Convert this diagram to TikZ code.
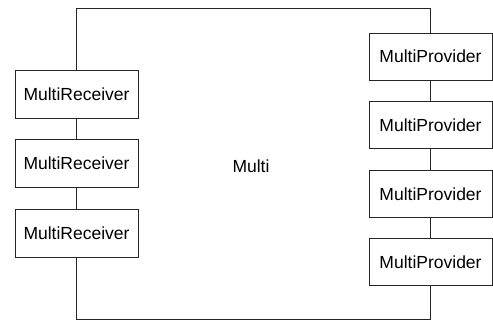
\documentclass[tikz,border=0pt]{standalone}
\usepackage{fontspec}
\setmainfont{Liberation Sans}
\begin{document}
\begin{tikzpicture}[x=1pt,y=-1pt,
  box/.style={draw=black!85,line width=0.9pt,fill=white,inner sep=0pt,font=\fontsize{17.5}{20}\selectfont},
  wire/.style={draw=black!85,line width=0.9pt}]
\useasboundingbox (0,0) rectangle (493,321);
% left receivers
\node[box,minimum width=123pt,minimum height=48pt] (r1) at (76.5,94) {MultiReceiver};
\node[box,minimum width=123pt,minimum height=48pt] (r2) at (76.5,163) {MultiReceiver};
\node[box,minimum width=123pt,minimum height=48pt] (r3) at (76.5,233) {MultiReceiver};
% right providers
\node[box,minimum width=123pt,minimum height=47pt] (p1) at (430.5,56.5) {MultiProvider};
\node[box,minimum width=123pt,minimum height=47pt] (p2) at (430.5,125) {MultiProvider};
\node[box,minimum width=123pt,minimum height=47pt] (p3) at (430.5,194) {MultiProvider};
\node[box,minimum width=123pt,minimum height=47pt] (p4) at (430.5,262) {MultiProvider};
% centre label
\node[font=\fontsize{17.5}{20}\selectfont] (m) at (251,166) {Multi};
% frame corners
\coordinate (tl) at (76.5,8);
\coordinate (tr) at (430.5,8);
\coordinate (bl) at (76.5,319);
\coordinate (br) at (430.5,319);
\draw[wire] (r1.north) -- (tl) -- (tr) -- (p1.north);
\draw[wire] (r1.south) -- (r2.north);
\draw[wire] (r2.south) -- (r3.north);
\draw[wire] (r3.south) -- (bl) -- (br) -- (p4.south);
\draw[wire] (p1.south) -- (p2.north);
\draw[wire] (p2.south) -- (p3.north);
\draw[wire] (p3.south) -- (p4.north);
\end{tikzpicture}
\end{document}
